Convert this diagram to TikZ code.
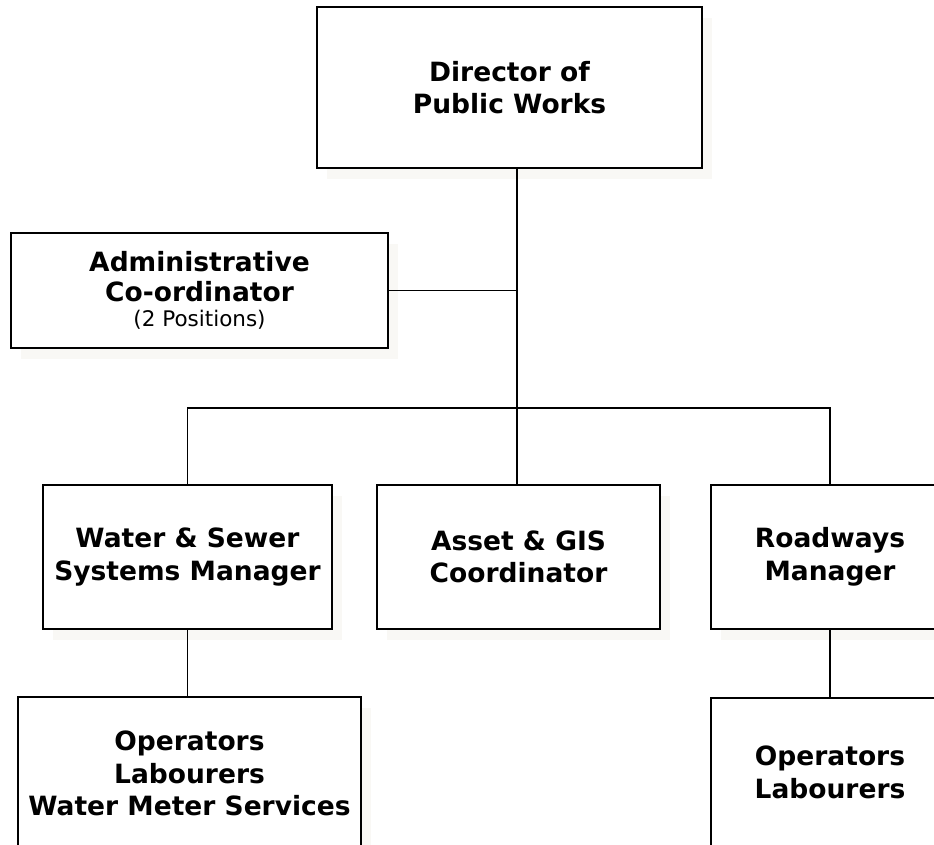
\documentclass[tikz,border=0pt]{standalone}
\usepackage{fontspec}
\setmainfont{DejaVu Sans}
\usetikzlibrary{shadows}
\definecolor{shadowc}{RGB}{249,248,245}
\tikzset{
  box/.style={draw=black, line width=1.8pt, fill=white, rectangle, align=center,
    inner sep=0pt, font=\bfseries\fontsize{26.5}{32.5}\selectfont,
    drop shadow={shadow xshift=10pt, shadow yshift=-11pt, fill=shadowc, opacity=1}},
  conn/.style={draw=black, line width=1.8pt},
}
\begin{document}
\begin{tikzpicture}[x=1pt, y=-1pt]
\useasboundingbox (0,0) rectangle (934,845);
\clip (0,0) rectangle (934,845);
\node[box, minimum width=385pt, minimum height=161pt] (dir) at (509.5,87.5) {Director of\\Public Works};
\node[box, minimum width=377pt, minimum height=115pt, font=\bfseries\fontsize{26.5}{30}\selectfont] (adm) at (199.5,290.5) {Administrative\\Co-ordinator\\[-5pt]{\mdseries\fontsize{21.5}{24}\selectfont (2 Positions)}};
\node[box, minimum width=289pt, minimum height=144pt] (wat) at (187.5,557) {Water \& Sewer\\Systems Manager};
\node[box, minimum width=283pt, minimum height=144pt] (ast) at (518.5,557) {Asset \& GIS\\Coordinator};
\node[box, minimum width=238pt, minimum height=144pt] (road) at (830,557) {Roadways\\Manager};
\node[box, minimum width=343pt, minimum height=153pt] (opl) at (189.5,773.5) {Operators\\Labourers\\Water Meter Services};
\node[box, minimum width=238pt, minimum height=149pt] (opr) at (830,772.5) {Operators\\Labourers};
\coordinate (busM) at (517,408);
\coordinate (busL) at (187.5,408);
\coordinate (busR) at (830,408);
\draw[conn] (dir.south -| busM) -- (busM) -- (ast.north -| busM);
\draw[conn] (adm.east) -- (adm.east -| busM);
\draw[conn] (wat.north) -- (busL) -- (busR) -- (road.north);
\draw[conn] (wat.south) -- (opl.north -| wat.south);
\draw[conn] (road.south) -- (opr.north);
\end{tikzpicture}
\end{document}
